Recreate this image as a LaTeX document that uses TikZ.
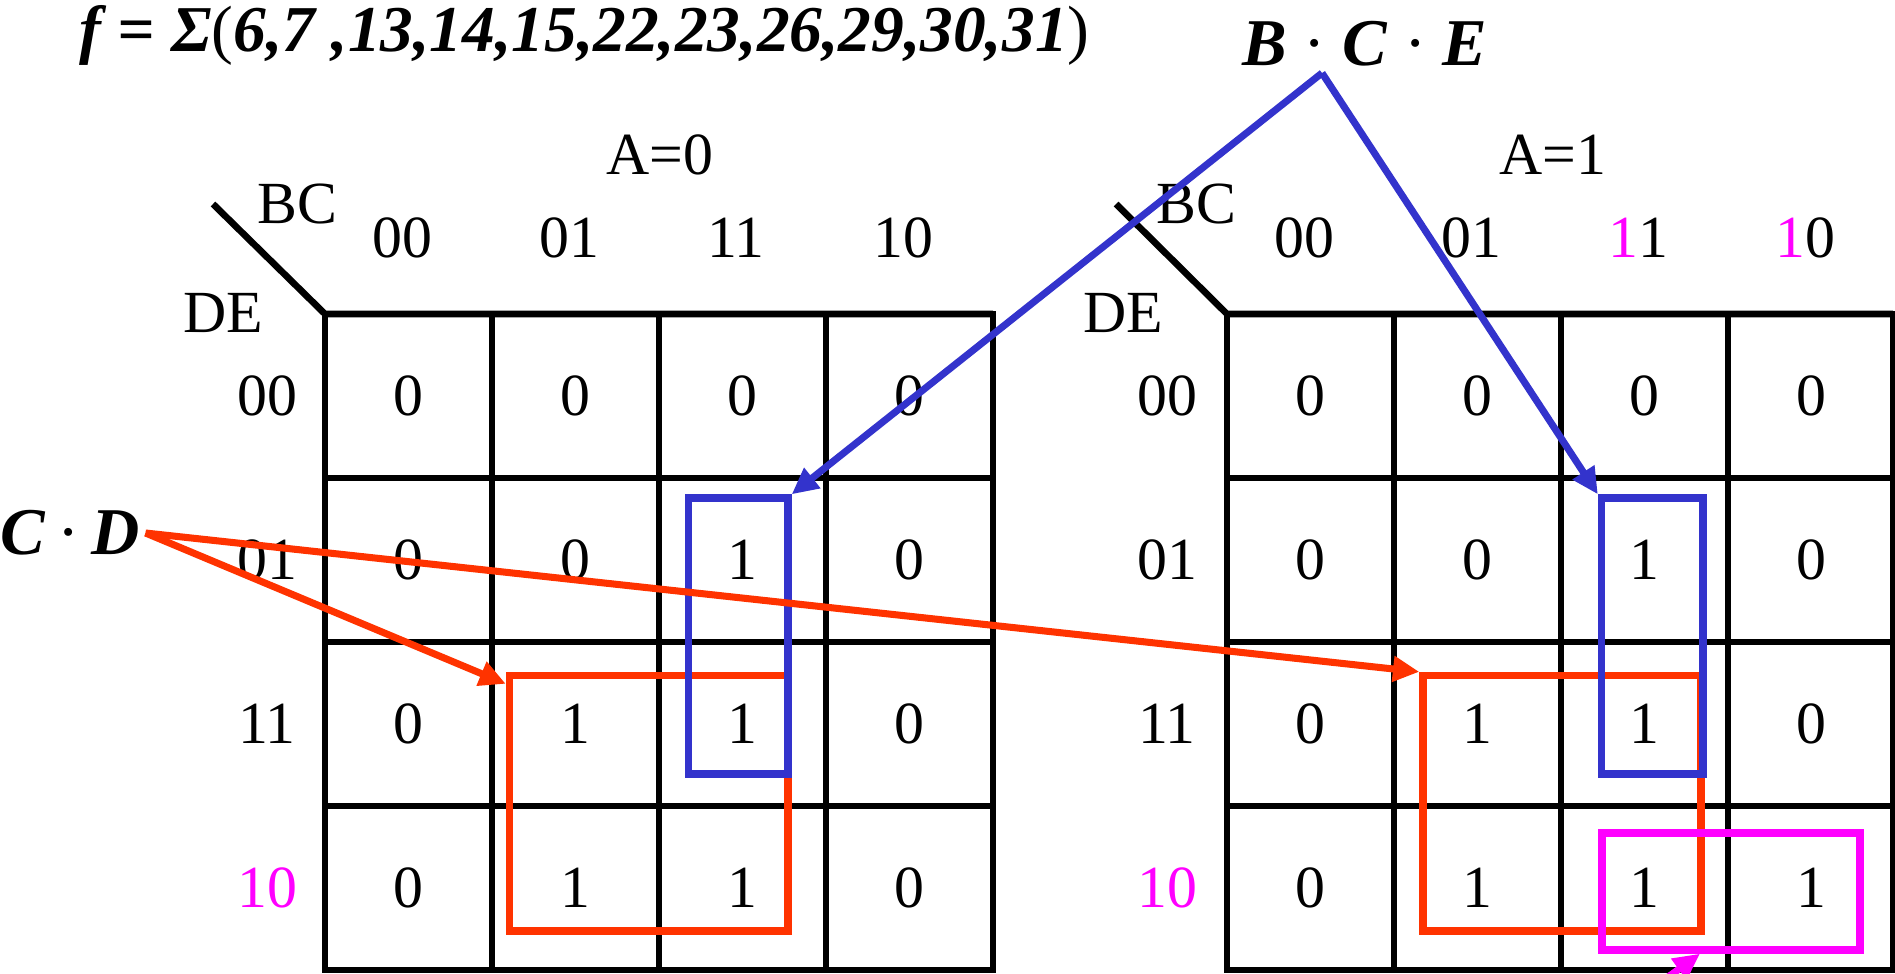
\documentclass[tikz,border=0pt]{standalone}
\usepackage{fontspec}
\setmainfont{Liberation Serif}
\usetikzlibrary{arrows.meta, fit}
\definecolor{loopblue}{RGB}{51,51,204}
\definecolor{loopred}{RGB}{255,51,0}
\definecolor{loopmag}{RGB}{255,0,255}
\tikzstyle{gridline} = [line width=1.9pt, draw=black]
\tikzstyle{cellval} = [inner sep=0pt, font=\fontsize{17}{17}\selectfont]
\tikzstyle{term} = [inner sep=1.5pt, font=\fontsize{19}{19}\selectfont\bfseries\itshape]
\tikzstyle{formula} = [inner sep=0pt, font=\fontsize{18.6}{18.6}\selectfont\bfseries\itshape]
\tikzstyle{loopbox} = [draw, line width=2.1pt, inner sep=0pt]
\tikzstyle{linkarrow} = [line width=2pt, -{Triangle[length=7.5pt, width=7pt]}]

\begin{document}
\begin{tikzpicture}[x=0.01cm, y=-0.01cm]
    \useasboundingbox (0,0) rectangle (1895,973);
    \clip (0,0) rectangle (1895,973);

    % Titulos
    \node[formula, anchor=base west] (fx) at (79,52) {f = Σ{\mdseries\upshape(}6,7 ,13,14,15,22,23,26,29,30,31{\mdseries\upshape)}};
    \node[term] (bce) at (1365,44) {B \textmd{\upshape·} C \textmd{\upshape·} E};
    \node[term] (cd) at (70,533) {C\hspace{0.18em}\textmd{\upshape·}\hspace{0.18em}D};

    % Mapa A=0
    \draw[gridline] (213,204) -- (325,314) -- (993,314);
    \draw[gridline] (325,314) rectangle (993,970);
    \draw[gridline] (492,314) -- (492,970) (659,314) -- (659,970) (826,314) -- (826,970);
    \draw[gridline] (325,478) -- (993,478) (325,642) -- (993,642) (325,806) -- (993,806);
    \node[cellval] (aL) at (660,155) {A=0};
    \node[cellval] (bcL) at (297,204) {BC};
    \node[cellval] (deL) at (223,313) {DE};
    \foreach \c/\t in {0/00,1/01,2/11,3/10}
        \node[cellval] (colL\c) at (402+167*\c,238) {\t};
    \foreach \r/\t in {0/00,1/01,2/11}
        \node[cellval] (rowL\r) at (267,396+164*\r) {\t};
    \node[cellval, text=loopmag] (rowL3) at (267,888) {10};
    \foreach [count=\r from 0] \row in {{0,0,0,0},{0,0,1,0},{0,1,1,0},{0,1,1,0}} {
        \foreach [count=\c from 0] \v in \row
            \node[cellval] (L\r\c) at (408.5+167*\c,396+164*\r) {\v};
    }

    % Mapa A=1
    \draw[gridline] (1116,204) -- (1227,314) -- (1893,314);
    \draw[gridline] (1227,314) rectangle (1893,970);
    \draw[gridline] (1394,314) -- (1394,970) (1561,314) -- (1561,970) (1728,314) -- (1728,970);
    \draw[gridline] (1227,478) -- (1893,478) (1227,642) -- (1893,642) (1227,806) -- (1893,806);
    \node[cellval] (aR) at (1553,155) {A=1};
    \node[cellval] (bcR) at (1196,204) {BC};
    \node[cellval] (deR) at (1123,313) {DE};
    \node[cellval] (colR0) at (1304,238) {00};
    \node[cellval] (colR1) at (1471,238) {01};
    \node[cellval] (colR2) at (1638,238) {\textcolor{loopmag}{1}1};
    \node[cellval] (colR3) at (1805,238) {\textcolor{loopmag}{1}0};
    \foreach \r/\t in {0/00,1/01,2/11}
        \node[cellval] (rowR\r) at (1167,396+164*\r) {\t};
    \node[cellval, text=loopmag] (rowR3) at (1167,888) {10};
    \foreach [count=\r from 0] \row in {{0,0,0,0},{0,0,1,0},{0,1,1,0},{0,1,1,1}} {
        \foreach [count=\c from 0] \v in \row
            \node[cellval] (R\r\c) at (1310.5+167*\c,396+164*\r) {\v};
    }

    % Lazos
    \node[loopbox, draw=loopred, fit={(509.5,675.5) (788,931)}] (redL) {};
    \node[loopbox, draw=loopred, fit={(1423,675.5) (1701,931)}] (redR) {};
    \node[loopbox, draw=loopblue, fit={(688.5,498) (788,774)}] (blueL) {};
    \node[loopbox, draw=loopblue, fit={(1601.5,498) (1703,774)}] (blueR) {};
    \node[loopbox, draw=loopmag, fit={(1602,833) (1860,950)}] (magR) {};

    % Flechas
    \coordinate (bceapex) at (1322,73);
    \coordinate (magtail) at (1619,1013);
    \draw[linkarrow, draw=loopblue, fill=loopblue] (bceapex) -- (blueL.north east);
    \draw[linkarrow, draw=loopblue, fill=loopblue] (bceapex) -- (blueR.north west);
    \draw[linkarrow, draw=loopred, fill=loopred] (cd.east) -- ([yshift=-0.12cm]redL.north west);
    \draw[linkarrow, draw=loopred, fill=loopred] (cd.east) -- (redR.north west);
    \draw[linkarrow, draw=loopmag, fill=loopmag] (magtail) -- ([xshift=-0.31cm]magR.south);

\end{tikzpicture}
\end{document}
